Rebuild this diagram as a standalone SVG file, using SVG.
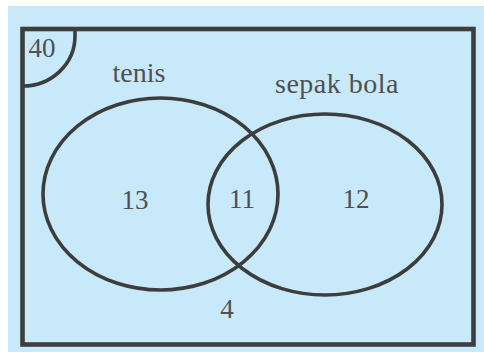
<svg xmlns="http://www.w3.org/2000/svg" width="484" height="352" viewBox="0 0 484 352">
<style>
.ln{fill:none;stroke:#3d3d3d;stroke-width:3.6}
.t{font-family:"Liberation Serif","Times New Roman",serif;fill:#505050;text-anchor:middle}
.lb{font-size:28px}
.n{font-size:27px}
</style>
<rect x="0" y="0" width="484" height="352" fill="#ffffff"/>
<rect x="8" y="6" width="476" height="346" fill="#c8e9f9"/>
<g id="universe">
<rect x="22.5" y="29" width="451" height="315.5" fill="none" stroke="#3d3d3d" stroke-width="4.6"/>
<path class="ln" d="M75,29 L75,36 A52,50 0 0 1 23,86"/>
<text class="t n" x="42" y="57">40</text>
</g>
<g id="tenis">
<ellipse class="ln" cx="160.5" cy="194" rx="117.5" ry="96"/>
<text class="t lb" x="139" y="82">tenis</text>
<text class="t n" x="135" y="209">13</text>
</g>
<g id="sepak-bola">
<ellipse class="ln" cx="325" cy="204.5" rx="117" ry="90.5"/>
<text class="t lb" x="337" y="93" letter-spacing="0.5">sepak bola</text>
<text class="t n" x="356" y="208">12</text>
</g>
<g id="intersection">
<text class="t n" x="242" y="208">11</text>
</g>
<g id="outside">
<text class="t n" x="227" y="318">4</text>
</g>
<g id="connectors"></g>
</svg>
